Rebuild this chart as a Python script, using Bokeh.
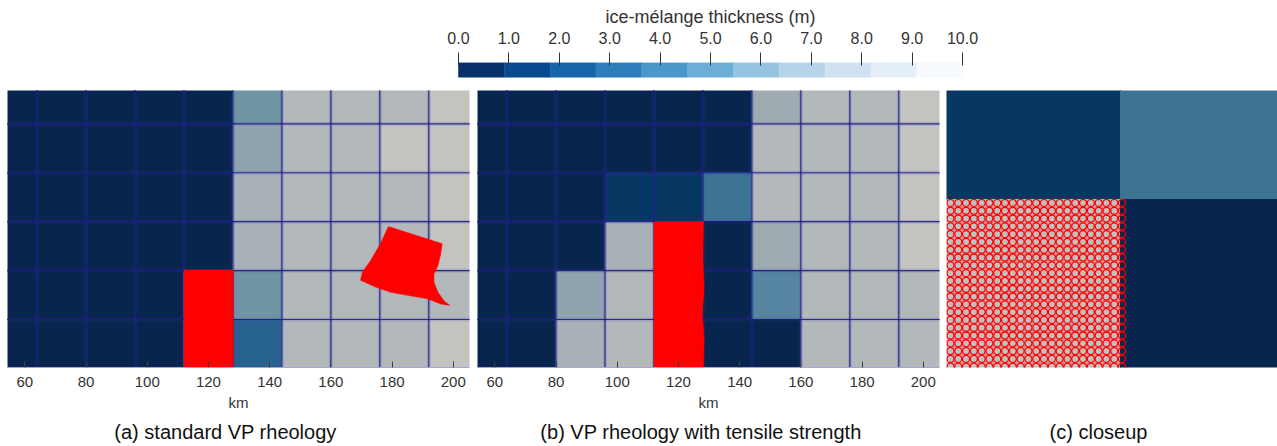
import numpy as np
from bokeh.plotting import figure
from bokeh.models import (Range1d, FixedTicker, PrintfTickFormatter,
                          Spacer, ColumnDataSource)
from bokeh.core.properties import value
from bokeh.layouts import row, column
from bokeh.embed import file_html
from bokeh.resources import INLINE

# ---------------- data ----------------
# colour bar (ice-mélange thickness, m)
cbar_low, cbar_high = 0.0, 10.0
cbar_ticks = [0, 1, 2, 3, 4, 5, 6, 7, 8, 9, 10]
cbar_palette = ["#08306b", "#084a92", "#1764ab", "#2e7ebc", "#4a98c9", "#6baed6",
                "#94c4df", "#b6d4e9", "#d0e1f2", "#e3eef9", "#f7fbff"]
cbar_title = "ice-mélange thickness (m)"

# model grid (km)
cell_size = 16.0
first_cell_x = 48.0
first_cell_y = 0.0
x_ticks = [60, 80, 100, 120, 140, 160, 180, 200]

# cell shading classes as rendered
cell_colors = {
    "N": "#08264d", "D": "#073763", "S": "#3d7493", "M": "#5585a0",
    "T": "#6f95a5", "B": "#8fa3ae", "G": "#a8b1b6", "g": "#a0abb1",
    "L": "#b3b8bb", "W": "#c3c3bf", "K": "#27628f", "P": "#c0c0c0",
}
# rows listed from top to bottom, columns left to right (48 .. 208 km)
grid_a = ["NNNNNTLLLW",
          "NNNNNBLLWW",
          "NNNNNGLLLW",
          "NNNNNGLLLW",
          "NNNNPTLLLL",
          "NNNNPKLLLW"]
grid_b = ["NNNNNNgLLW",
          "NNNNNNLLLW",
          "NNNDDSLLLW",
          "NNNGPNgLLW",
          "NNBLPNMLLL",
          "NNGLPNNLLL"]

# particle (iceberg) outlines, km
a_block_x = [112.0, 128.1, 128.1, 112.0]
a_block_y = [0.0, 0.0, 32.2, 32.2]
a_floe_x = [178.8, 196.4, 195.9, 195.0, 193.7, 193.7, 195.0, 196.9, 198.8, 195.9,
            191.5, 185.0, 179.5, 174.6, 169.7, 170.3, 173.0, 176.2]
a_floe_y = [46.4, 40.8, 37.5, 33.7, 30.9, 28.2, 24.9, 22.2, 20.6, 21.1,
            22.8, 23.9, 24.9, 26.6, 28.8, 31.5, 35.3, 40.8]
b_block_x = [112.0, 128.2, 128.4, 127.8, 128.4, 128.0, 128.2, 112.0]
b_block_y = [0.0, 0.0, 10.0, 18.0, 26.0, 36.0, 48.0, 48.0]

# closeup: particle lattice
particle_x0, particle_y0 = 122.55, 47.89
particle_dx = 0.25
particle_nx, particle_ny = 23, 22

captions = ["(a) standard VP rheology",
            "(b) VP rheology with tensile strength",
            "(c) closeup"]

FONT = "Liberation Sans"
PANEL_H = 326          # figure height of the map row
BOTTOM = 49            # room for the km axis under each map


def cell_source(grid):
    n_rows = len(grid)
    d = dict(left=[], right=[], bottom=[], top=[], color=[])
    for r, line in enumerate(grid):
        j = n_rows - 1 - r
        for i, key in enumerate(line):
            d["left"].append(first_cell_x + i * cell_size)
            d["right"].append(first_cell_x + (i + 1) * cell_size)
            d["bottom"].append(first_cell_y + j * cell_size)
            d["top"].append(first_cell_y + (j + 1) * cell_size)
            d["color"].append(cell_colors[key])
    return ColumnDataSource(d)


def add_cells(p, grid):
    p.quad(left="left", right="right", bottom="bottom", top="top",
           fill_color="color", line_color="color", line_width=1,
           source=cell_source(grid))


def add_mesh(p, grid):
    n_rows, n_cols = len(grid), len(grid[0])
    vx = [first_cell_x + i * cell_size for i in range(1, n_cols)]
    hy = [first_cell_y + j * cell_size for j in range(1, n_rows)]
    y_lo, y_hi = first_cell_y, first_cell_y + n_rows * cell_size
    x_lo, x_hi = first_cell_x, first_cell_x + n_cols * cell_size
    x0 = vx + [x_lo] * len(hy)
    x1 = vx + [x_hi] * len(hy)
    y0 = [y_lo] * len(vx) + hy
    y1 = [y_hi] * len(vx) + hy
    p.segment(x0, y0, x1, y1, line_color="#3a3ab0", line_width=4, line_alpha=0.16)
    p.segment(x0, y0, x1, y1, line_color="#1c1c86", line_width=1.2, line_alpha=0.9)


def base_fig(width, x_range, y_range, left, right):
    p = figure(width=width, height=PANEL_H, x_range=x_range, y_range=y_range,
               toolbar_location=None, output_backend="svg",
               min_border_left=left, min_border_right=right,
               min_border_top=0, min_border_bottom=BOTTOM)
    p.outline_line_color = None
    p.xgrid.visible = False
    p.ygrid.visible = False
    p.yaxis.visible = False
    p.background_fill_color = "white"
    return p


def style_xaxis(p):
    ax = p.xaxis[0]
    ax.ticker = FixedTicker(ticks=x_ticks)
    ax.axis_label = "km"
    ax.axis_label_text_font = FONT
    ax.axis_label_text_font_size = "15px"
    ax.axis_label_text_font_style = "normal"
    ax.axis_label_text_color = "#333333"
    ax.axis_label_standoff = 4
    ax.major_label_text_font = FONT
    ax.major_label_text_font_size = "15px"
    ax.major_label_text_color = "#333333"
    ax.major_label_standoff = 9
    ax.major_tick_in = 6
    ax.major_tick_out = 0
    ax.major_tick_line_color = "#404040"
    ax.minor_tick_line_color = None
    ax.axis_line_color = "#a6a6d6"


# ---------------- colour bar ----------------
cb = figure(width=600, height=90, x_range=Range1d(-0.952, 10.952),
            y_range=Range1d(0, 1), x_axis_location="above",
            toolbar_location=None, output_backend="svg",
            min_border_left=0, min_border_right=0,
            min_border_top=62, min_border_bottom=0)
n_bins = len(cbar_palette)
bin_w = (cbar_high - cbar_low) / n_bins
cb.quad(left=[cbar_low + k * bin_w for k in range(n_bins)],
        right=[cbar_low + (k + 1) * bin_w for k in range(n_bins)],
        bottom=0.475, top=1.0, fill_color=cbar_palette, line_color=cbar_palette,
        line_width=0.5)
cb.outline_line_color = None
cb.xgrid.visible = False
cb.ygrid.visible = False
cb.yaxis.visible = False
cax = cb.xaxis[0]
cax.ticker = FixedTicker(ticks=cbar_ticks)
cax.formatter = PrintfTickFormatter(format="%.1f")
cax.axis_line_color = None
cax.major_tick_out = 10
cax.major_tick_in = 3
cax.major_tick_line_color = "#333333"
cax.minor_tick_line_color = None
cax.major_label_text_font = FONT
cax.major_label_text_font_size = "16px"
cax.major_label_text_color = "#333333"
cax.major_label_standoff = 9
cax.axis_label = cbar_title
cax.axis_label_text_font = FONT
cax.axis_label_text_font_size = "18px"
cax.axis_label_text_font_style = "normal"
cax.axis_label_text_color = "#333333"
cax.axis_label_standoff = 2

# ---------------- panel (a) ----------------
pa = base_fig(466, Range1d(54.35, 205.3), Range1d(0.3, 90.9), 0, 4)
add_cells(pa, grid_a)
add_mesh(pa, grid_a)
pa.patch(a_block_x, a_block_y, fill_color="#ff0000", line_color="#ff0000", line_width=0.5)
pa.patch(a_floe_x, a_floe_y, fill_color="#ff0000", line_color="#ff0000", line_width=0.5)
style_xaxis(pa)

# ---------------- panel (b) ----------------
pb = base_fig(470, Range1d(54.35, 205.3), Range1d(0.3, 90.9), 4, 4)
add_cells(pb, grid_b)
add_mesh(pb, grid_b)
pb.patch(b_block_x, b_block_y, fill_color="#ff0000", line_color="#ff0000", line_width=0.5)
style_xaxis(pb)

# ---------------- panel (c) closeup ----------------
pc = base_fig(334, Range1d(122.423, 133.032), Range1d(42.615, 51.494), 3, 0)
pc.xaxis.visible = False
add_cells(pc, grid_b)
gx, gy = np.meshgrid(particle_x0 + particle_dx * np.arange(particle_nx),
                     particle_y0 - particle_dx * np.arange(particle_ny))
hx, hy = np.meshgrid(particle_x0 + particle_dx * (np.arange(particle_nx - 1) + 0.5),
                     particle_y0 - particle_dx * (np.arange(particle_ny) + 0.5))
pc.scatter(hx.ravel(), hy.ravel(), marker="cross",
           size=4, line_color="#f07070", line_alpha=0.7, line_width=1)
pc.scatter(gx.ravel(), gy.ravel(), marker="circle", size=7, fill_color=None,
           line_color="#ff0000", line_width=1.3)

# ---------------- captions row ----------------
cap_h = 446 - 90 - PANEL_H
cap = figure(width=1277, height=cap_h, x_range=Range1d(0, 1277), y_range=Range1d(0, cap_h),
             toolbar_location=None, output_backend="svg",
             min_border_left=0, min_border_right=0, min_border_top=0, min_border_bottom=0)
cap.axis.visible = False
cap.xgrid.visible = False
cap.ygrid.visible = False
cap.outline_line_color = None
cap.text(x=[225, 700.5, 1098], y=[14.4, 14.4, 14.4], text=captions,
         text_font=value(FONT), text_font_size=value("20px"), text_color="#111111",
         text_align="center", text_baseline="middle")

layout = column(row(Spacer(width=410, height=90), cb),
                row(Spacer(width=7, height=PANEL_H), pa, pb, pc),
                cap)

open("out.html", "w").write(file_html(layout, INLINE))
